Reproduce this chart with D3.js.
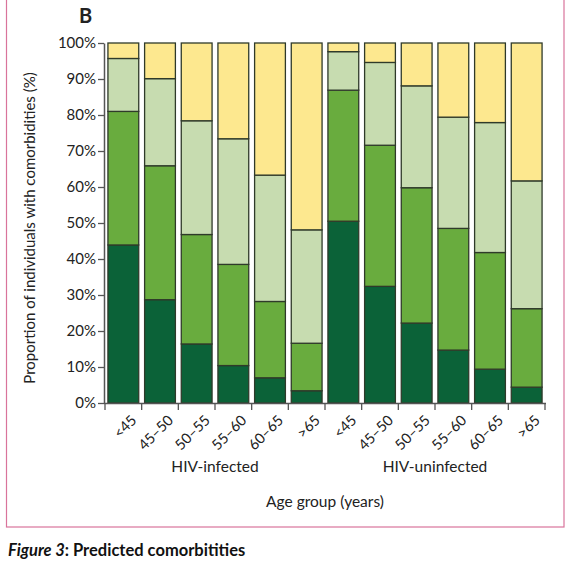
<!DOCTYPE html>
<html><head><meta charset="utf-8">
<script src="https://cdn.jsdelivr.net/npm/d3@7"></script>
<style>body{margin:0;background:#fff;}svg{display:block;font-family:Lato,"Open Sans",sans-serif;}</style>
</head><body>
<script>
const categories = ["<45","45–50","50–55","55–60","60–65",">65","<45","45–50","50–55","55–60","60–65",">65"];
const groups = ["HIV-infected","HIV-uninfected"];
const seriesNames = ["s1","s2","s3","s4"];
const s1 = [43.9,28.7,16.4,10.4,7.0,3.4,50.5,32.4,22.2,14.7,9.4,4.4];
const s2 = [37.1,37.2,30.4,28.1,21.2,13.2,36.4,39.2,37.6,33.8,32.4,21.8];
const s3 = [14.7,24.2,31.6,34.9,35.1,31.5,10.7,23.0,28.3,30.9,36.1,35.5];
const s4 = [4.3,9.9,21.6,26.6,36.7,51.9,2.4,5.4,11.9,20.6,22.1,38.3];
const yTicks = [0,10,20,30,40,50,60,70,80,90,100];
const colors = ["#0b6238","#69ac3e","#c7dcb0","#fde88f"];

const W=570,H=565;
const svg=d3.select("body").append("svg").attr("width",W).attr("height",H);
svg.append("rect").attr("x",6.5).attr("y",-2).attr("width",557.5).attr("height",529)
  .attr("fill","none").attr("stroke","#d9749b").attr("stroke-width",1.2);

const x0=105,x1=545,yTop=43,yBot=403;
const idx=categories.map((d,i)=>i);
const x=d3.scaleBand().domain(idx).range([x0,x1]).paddingInner(0.16).paddingOuter(0.08);
const y=d3.scaleLinear().domain([0,100]).range([yBot,yTop]);

const rows=idx.map(i=>({i,s1:s1[i],s2:s2[i],s3:s3[i],s4:s4[i]}));
const stack=d3.stack().keys(seriesNames)(rows);
stack.forEach((layer,k)=>{
  svg.append("g").selectAll("rect").data(layer).join("rect")
    .attr("x",d=>x(d.data.i)).attr("width",x.bandwidth())
    .attr("y",d=>y(d[1])).attr("height",d=>y(d[0])-y(d[1]))
    .attr("fill",colors[k]).attr("stroke","#2f3a2a").attr("stroke-width",1.3);
});

// y axis
const ya=svg.append("g").attr("transform",`translate(${x0-1},0)`)
  .call(d3.axisLeft(y).tickValues(yTicks).tickFormat(d=>d+"%").tickSize(6).tickSizeOuter(0));
ya.select(".domain").attr("stroke","#555").attr("stroke-width",1.5);
ya.selectAll(".tick line").attr("stroke","#555").attr("stroke-width",1.3);
ya.selectAll(".tick text").attr("font-size",15).attr("fill","#222").attr("x",-8).style("font-family","Lato, sans-serif");

// x axis baseline and ticks at band boundaries
const bounds=d3.range(categories.length+1).map(k=>x0+k*(x1-x0)/categories.length);
const xa=svg.append("g");
xa.append("line").attr("x1",x0-1).attr("x2",x1+1).attr("y1",yBot+0.5).attr("y2",yBot+0.5).attr("stroke","#555").attr("stroke-width",1.5);
xa.selectAll("line.t").data(bounds).join("line").attr("class","t")
  .attr("x1",d=>d).attr("x2",d=>d).attr("y1",yBot).attr("y2",yBot+7).attr("stroke","#555").attr("stroke-width",1.3);
xa.selectAll("text").data(idx).join("text")
  .attr("transform",i=>`translate(${x(i)+x.bandwidth()/2+7},${yBot+11}) rotate(-45)`)
  .attr("text-anchor","end").attr("dy","0.7em").attr("font-size",14.5).attr("fill","#222")
  .text(i=>categories[i]);

// group labels
groups.forEach((g,k)=>{
  svg.append("text").attr("x",x0+(k*6+3)*(x1-x0)/12).attr("y",472).attr("text-anchor","middle")
    .attr("font-size",15.5).attr("fill","#222").text(g);
});
svg.append("text").attr("x",(x0+x1)/2).attr("y",507).attr("text-anchor","middle")
  .attr("font-size",15.5).attr("fill","#222").text("Age group (years)");
svg.append("text").attr("transform",`translate(35,${(yTop+yBot)/2+5}) rotate(-90)`).attr("text-anchor","middle")
  .attr("font-size",15).attr("fill","#222").text("Proportion of individuals with comorbidities (%)");
svg.append("text").attr("x",79).attr("y",23).attr("font-size",20).attr("font-weight","bold").attr("fill","#222").text("B");

const cap=svg.append("text").attr("x",8).attr("y",556).attr("font-size",16.5).attr("font-weight","bold").attr("fill","#111");
cap.append("tspan").attr("font-style","italic").text("Figure 3");
cap.append("tspan").text(": Predicted comorbitities");
</script>
</body></html>
